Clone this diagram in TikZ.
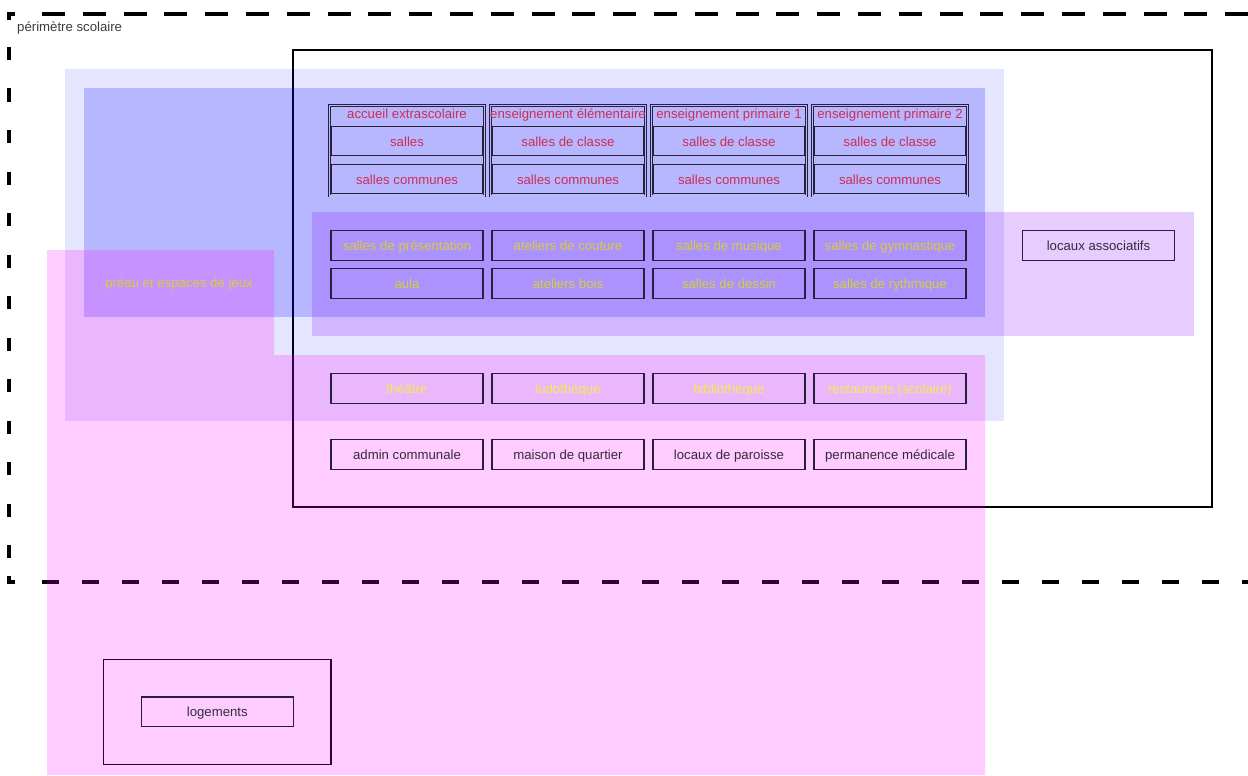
\documentclass[tikz,border=0pt]{standalone}
\usepackage{fontspec}
\setmainfont{Liberation Sans}
\definecolor{bordc}{RGB}{40,32,58}
\definecolor{redt}{RGB}{205,45,85}
\definecolor{darkt}{RGB}{52,42,62}
\definecolor{yelt}{RGB}{215,205,60}
\definecolor{yelb}{RGB}{245,236,70}
\definecolor{grayt}{RGB}{60,60,60}
\definecolor{midblue}{RGB}{184,184,255}
\definecolor{bluec}{RGB}{0,0,255}
\definecolor{violetc}{RGB}{128,0,255}
\definecolor{pinkc}{RGB}{255,0,255}
\begin{document}
\begin{tikzpicture}[x=1pt,y=-1pt,
  txt/.style={font=\fontsize{13.2}{15}\selectfont, inner sep=0pt, text height=12pt, text depth=2pt},
  box/.style={txt, draw=bordc, line width=1.2pt, minimum width=152pt, minimum height=29.5pt},
  grp/.style={draw=bordc, line width=0.9pt, double=midblue, double distance=1.1pt, minimum width=155.8pt, minimum height=90.8pt, inner sep=0pt},
  perim/.style={line width=3.6pt, black, line cap=butt},
  bigrect/.style={draw=black, line width=1.2pt, inner sep=0pt}
]
\useasboundingbox (0,0) rectangle (1248,776);

% perimeter (drawn below the translucent layers)
\draw[perim] (15,14) -- (9,14) -- (9,20);
\draw[perim] (9,576) -- (9,582) -- (15,582);
\draw[perim, dash pattern=on 23pt off 17.8pt] (42,14) -- (1248,14);
\draw[perim, dash pattern=on 13pt off 28.5pt] (9,47) -- (9,560);
\draw[perim, dash pattern=on 17.5pt off 22.5pt] (41.5,582) -- (1248,582);
\node[txt, text=grayt, anchor=west] (perimlabel) at (17,27) {périmètre scolaire};

% big frame and logements frame
\node[bigrect, minimum width=919pt, minimum height=457pt] (frame) at (752.5,278.5) {};
\node[bigrect, minimum width=227.7pt, minimum height=105pt] (logframe) at (217.2,711.8) {};

% translucent zones
\fill[bluec, opacity=0.1] (65,69) rectangle (1004,421);
\fill[bluec, opacity=0.2] (84,88) rectangle (985,316.5);
\fill[violetc, opacity=0.2] (312,212) rectangle (1194,336);
\fill[pinkc, opacity=0.2] (47,250) -- (274,250) -- (274,355) -- (985,355) -- (985,775) -- (47,775) -- cycle;

% groups (header)
\node[grp] (g1) at (407,150.6) {};
\node[grp] (g2) at (568,150.6) {};
\node[grp] (g3) at (729,150.6) {};
\node[grp] (g4) at (890,150.6) {};
\node[txt, text=redt] (g1t) at (407,113.5) {accueil extrascolaire};
\node[txt, text=redt] (g2t) at (568,113.5) {enseignement élémentaire};
\node[txt, text=redt] (g3t) at (729,113.5) {enseignement primaire 1};
\node[txt, text=redt] (g4t) at (890,113.5) {enseignement primaire 2};

\node[box, text=redt] (g1a) at (407,141) {salles};
\node[box, text=redt] (g1b) at (407,179) {salles communes};
\node[box, text=redt] (g2a) at (568,141) {salles de classe};
\node[box, text=redt] (g2b) at (568,179) {salles communes};
\node[box, text=redt] (g3a) at (729,141) {salles de classe};
\node[box, text=redt] (g3b) at (729,179) {salles communes};
\node[box, text=redt] (g4a) at (890,141) {salles de classe};
\node[box, text=redt] (g4b) at (890,179) {salles communes};

% middle rows
\node[box, text=yelt] (m1) at (407,245.5) {salles de présentation};
\node[box, text=yelt] (m2) at (568,245.5) {ateliers de couture};
\node[box, text=yelt] (m3) at (729,245.5) {salles de musique};
\node[box, text=yelt] (m4) at (890,245.5) {salles de gymnastique};
\node[box, text=yelt] (n1) at (407,283.5) {aula};
\node[box, text=yelt] (n2) at (568,283.5) {ateliers bois};
\node[box, text=yelt] (n3) at (729,283.5) {salles de dessin};
\node[box, text=yelt] (n4) at (890,283.5) {salles de rythmique};
\node[box, text=darkt] (assoc) at (1098.5,245.5) {locaux associatifs};
\node[txt, text=yelt] (preau) at (179,282) {préau et espaces de jeux};

% lower rows
\node[box, text=yelb] (p1) at (407,388.5) {théâtre};
\node[box, text=yelb] (p2) at (568,388.5) {ludothèque};
\node[box, text=yelb] (p3) at (729,388.5) {bibliothèque};
\node[box, text=yelb] (p4) at (890,388.5) {restaurants (scolaire)};
\node[box, text=darkt] (q1) at (407,454.5) {admin communale};
\node[box, text=darkt] (q2) at (568,454.5) {maison de quartier};
\node[box, text=darkt] (q3) at (729,454.5) {locaux de paroisse};
\node[box, text=darkt] (q4) at (890,454.5) {permanence médicale};

\node[box, text=darkt] (loge) at (217.3,711.8) {logements};
\end{tikzpicture}
\end{document}
